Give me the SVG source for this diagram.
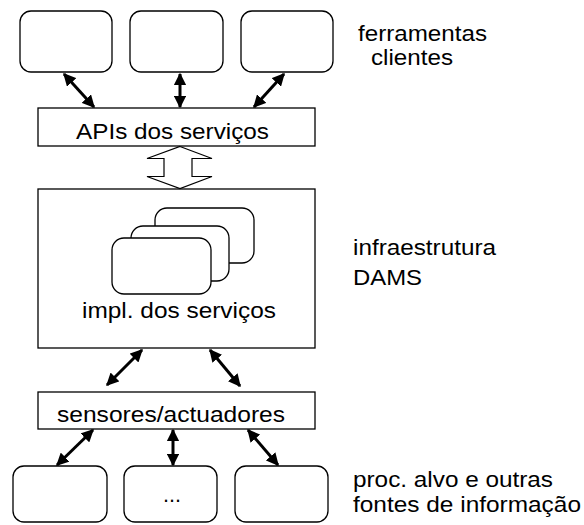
<svg xmlns="http://www.w3.org/2000/svg" width="584" height="525" viewBox="0 0 584 525">
  <style>
    .box { fill: #ffffff; stroke: #000000; stroke-width: 1.3; }
    .lbl { font-family: "Liberation Sans", Arial, sans-serif; font-size: 22px; fill: #000000; }
    .link { stroke: #000000; stroke-width: 3; fill: none; marker-start: url(#head); marker-end: url(#head); }
  </style>
  <defs>
    <marker id="head" viewBox="0 0 10 10" refX="9" refY="5" markerWidth="4.2" markerHeight="4.2" markerUnits="strokeWidth" orient="auto-start-reverse">
      <path d="M0,0 L10,5 L0,10 Z" fill="#000000"/>
    </marker>
  </defs>

  <rect width="584" height="525" fill="#ffffff"/>

  <!-- client tools -->
  <g id="client1"><rect class="box" x="20" y="11" width="92" height="61" rx="11"/></g>
  <g id="client2"><rect class="box" x="130" y="11" width="93" height="61" rx="11"/></g>
  <g id="client3"><rect class="box" x="241" y="11" width="92" height="61" rx="11"/></g>

  <!-- service APIs -->
  <g id="apis">
    <rect class="box" x="38" y="108" width="277" height="38"/>
    <text class="lbl" x="76" y="139" textLength="193" lengthAdjust="spacingAndGlyphs">APIs dos serviços</text>
  </g>

  <!-- DAMS infrastructure with stacked service implementations -->
  <g id="impl">
    <rect class="box" x="38" y="189" width="277" height="159"/>
    <rect class="box" x="155" y="208" width="99" height="55" rx="12"/>
    <rect class="box" x="131" y="226" width="98" height="55" rx="12"/>
    <rect class="box" x="112" y="238" width="99" height="56" rx="12"/>
    <text class="lbl" x="82" y="318" textLength="194" lengthAdjust="spacingAndGlyphs">impl. dos serviços</text>
  </g>

  <!-- sensors / actuators layer -->
  <g id="sensores">
    <rect class="box" x="38" y="392" width="277" height="37"/>
    <text class="lbl" x="57" y="422" textLength="228" lengthAdjust="spacingAndGlyphs">sensores/actuadores</text>
  </g>

  <!-- target processes and other sources -->
  <g id="alvo1"><rect class="box" x="13" y="466" width="94" height="56" rx="11"/></g>
  <g id="alvo2">
    <rect class="box" x="124" y="466" width="93" height="56" rx="11"/>
    <text class="lbl" x="163" y="502" textLength="18" lengthAdjust="spacingAndGlyphs">...</text>
  </g>
  <g id="alvo3"><rect class="box" x="235" y="466" width="93" height="56" rx="11"/></g>

  <!-- side labels -->
  <g id="labels">
    <text class="lbl" x="358" y="41" textLength="129" lengthAdjust="spacingAndGlyphs">ferramentas</text>
    <text class="lbl" x="371" y="65" textLength="82" lengthAdjust="spacingAndGlyphs">clientes</text>
    <text class="lbl" x="353" y="255" textLength="143" lengthAdjust="spacingAndGlyphs">infraestrutura</text>
    <text class="lbl" x="353" y="285" textLength="69" lengthAdjust="spacingAndGlyphs">DAMS</text>
    <text class="lbl" x="353" y="487" textLength="200" lengthAdjust="spacingAndGlyphs">proc. alvo e outras</text>
    <text class="lbl" x="353" y="512" textLength="228" lengthAdjust="spacingAndGlyphs">fontes de informação</text>
  </g>

  <!-- connectors -->
  <g id="connectors">
    <line class="link" x1="64" y1="74" x2="94" y2="107"/>
    <line class="link" x1="180" y1="74" x2="180" y2="107"/>
    <line class="link" x1="284" y1="74" x2="254" y2="107"/>

    <path d="M180,146.5 L212,158.5 L192,158.5 L192,176.5 L212,176.5 L180,188.5 L147,176.5 L164,176.5 L164,158.5 L147,158.5 Z" fill="#ffffff" stroke="#000000" stroke-width="1.2"/>

    <line class="link" x1="142" y1="350" x2="107" y2="385"/>
    <line class="link" x1="210" y1="350" x2="240" y2="386"/>

    <line class="link" x1="93" y1="430" x2="57" y2="465"/>
    <line class="link" x1="173" y1="430" x2="173" y2="465"/>
    <line class="link" x1="248" y1="430" x2="278" y2="465"/>
  </g>
</svg>
